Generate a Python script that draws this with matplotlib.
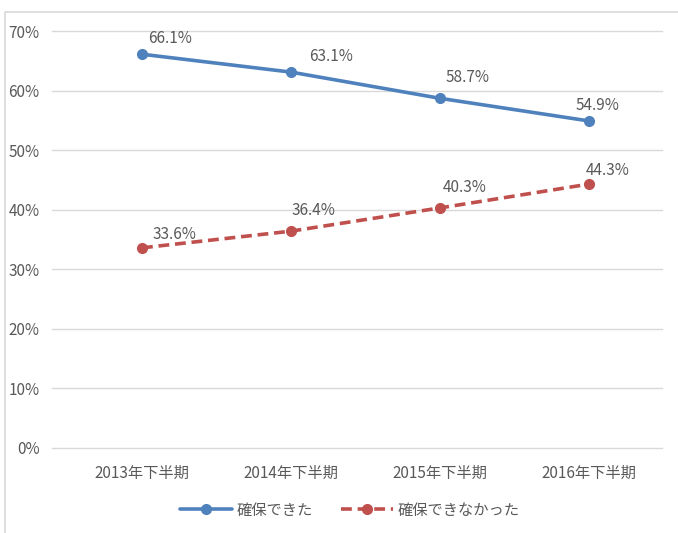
import matplotlib
matplotlib.use("Agg")
import matplotlib.pyplot as plt
from matplotlib.patches import Rectangle
from matplotlib.ticker import FuncFormatter

plt.rcParams['font.family'] = ['Noto Sans CJK JP', 'DejaVu Sans']

# --- data ---
periods = ['2013年下半期', '2014年下半期', '2015年下半期', '2016年下半期']
secured = [66.1, 63.1, 58.7, 54.9]
not_secured = [33.6, 36.4, 40.3, 44.3]
series_names = ['確保できた', '確保できなかった']

blue = '#4F81BD'
red = '#C0504D'
grey_text = '#595959'

fig = plt.figure(figsize=(6.78, 5.33), dpi=100)
# outer chart frame
fig.patches.append(Rectangle((5 / 678, -0.01), 1.0, 1 - 12 / 533 + 0.01,
                             transform=fig.transFigure, fill=False,
                             edgecolor='#D9D9D9', linewidth=1.2))

ax = fig.add_axes([52 / 678, 1 - 448 / 533, (662 - 52) / 678, (448 - 31) / 533])
x = list(range(len(periods)))

ax.plot(x, secured, color=blue, linewidth=2.6, marker='o', markersize=7,
        label=series_names[0], solid_capstyle='round')
ax.plot(x, not_secured, color=red, linewidth=2.6, marker='o', markersize=7,
        linestyle=(0, (3, 1.6)), label=series_names[1])

# data labels (pixel offsets from each point)
off_blue = [(28, 16), (40, 16), (28, 21), (9, 15)]
off_red = [(32, 13), (22, 21), (25, 20), (19, 14)]
for xi, v, (dx, dy) in zip(x, secured, off_blue):
    ax.annotate(f'{v:.1f}%', (xi, v), xytext=(dx, dy), textcoords='offset pixels',
                ha='center', va='center', fontsize=11, color=grey_text)
for xi, v, (dx, dy) in zip(x, not_secured, off_red):
    ax.annotate(f'{v:.1f}%', (xi, v), xytext=(dx, dy), textcoords='offset pixels',
                ha='center', va='center', fontsize=11, color=grey_text)

ax.set_xlim(-0.604, 3.49)
ax.set_ylim(0, 70)
ax.set_yticks(range(0, 71, 10))
ax.yaxis.set_major_formatter(FuncFormatter(lambda v, p: f'{int(v)}%'))
ax.set_xticks(x)
ax.set_xticklabels(periods)
ax.tick_params(axis='both', length=0, labelsize=11, colors=grey_text)
ax.tick_params(axis='x', pad=12)
ax.tick_params(axis='y', pad=9)
ax.grid(axis='y', color='#D9D9D9', linewidth=1)
for gl in ax.get_ygridlines():
    gl.set_clip_on(False)
ax.set_axisbelow(True)
for s in ax.spines.values():
    s.set_visible(False)

leg = fig.legend(loc='center', bbox_to_anchor=(0.516, 1 - 510 / 533), ncol=2,
                 frameon=False, fontsize=11, handlelength=3.4,
                 columnspacing=1.8, handletextpad=0.35)
for t in leg.get_texts():
    t.set_color(grey_text)

fig.savefig('out.png', dpi=100)
